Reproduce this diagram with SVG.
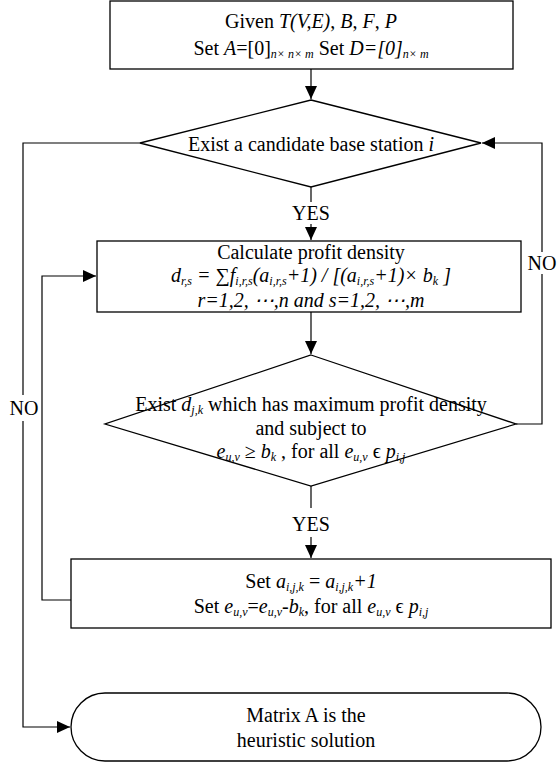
<svg xmlns="http://www.w3.org/2000/svg" width="557" height="764" viewBox="0 0 557 764">
<style>
.shape{fill:#fff;stroke:#000;stroke-width:1.3}
.ln{fill:none;stroke:#000;stroke-width:1.2}
text{font-family:"Liberation Serif","Times New Roman",serif;font-size:20px;fill:#000;text-anchor:middle}
.i{font-style:italic}
.s{font-size:12px}
</style>
<defs>
<marker id="ah" markerWidth="14" markerHeight="12" refX="13" refY="6" orient="auto" markerUnits="userSpaceOnUse">
<path d="M0,0 L13,6 L0,12 Z" fill="#000"/>
</marker>
</defs>
<g id="connectors">
<path class="ln" d="M311,69 V99" marker-end="url(#ah)"/>
<path class="ln" d="M311,187 V202"/>
<path class="ln" d="M311,224 V240" marker-end="url(#ah)"/>
<path class="ln" d="M311,312 V354" marker-end="url(#ah)"/>
<path class="ln" d="M311,486 V508"/>
<path class="ln" d="M311,537 V558" marker-end="url(#ah)"/>
<path class="ln" d="M516,424 H542 V143 H482" marker-end="url(#ah)"/>
<path class="ln" d="M71,600 H42 V276 H96" marker-end="url(#ah)"/>
<path class="ln" d="M140,143 H23 V395"/>
<path class="ln" d="M23,421 V727 H70" marker-end="url(#ah)"/>
<text x="311" y="220">YES</text>
<text x="311" y="531">YES</text>
<path d="M536,252 H548 V274 H536 Z" fill="#fff"/>
<text x="542" y="270">NO</text>
<text x="24" y="415">NO</text>
</g>
<g id="start">
<rect class="shape" x="110" y="1" width="403" height="68"/>
<text x="311" y="28">Given <tspan class="i">T(V,E)</tspan>, <tspan class="i">B</tspan>, <tspan class="i">F</tspan>, <tspan class="i">P</tspan></text>
<text x="311" y="55">Set <tspan class="i">A</tspan>=[0]<tspan class="s i" dy="3">n× n× m</tspan><tspan dy="-3"> Set </tspan><tspan class="i">D=[0]</tspan><tspan class="s i" dy="3">n× m</tspan></text>
</g>
<g id="decision1">
<polygon class="shape" points="311,100 481,143 311,187 140,143"/>
<text x="311" y="151">Exist a candidate base station <tspan class="i">i</tspan></text>
</g>
<g id="calc">
<rect class="shape" x="97" y="241" width="424" height="71"/>
<text x="311" y="259">Calculate profit density</text>
<text class="i" x="311" y="282">d<tspan class="s" dy="3">r,s</tspan><tspan dy="-3"> =  ∑f</tspan><tspan class="s" dy="3">i,r,s</tspan><tspan dy="-3">(a</tspan><tspan class="s" dy="3">i,r,s</tspan><tspan dy="-3">+1) / [(a</tspan><tspan class="s" dy="3">i,r,s</tspan><tspan dy="-3">+1)× b</tspan><tspan class="s" dy="3">k</tspan><tspan dy="-3"> ]</tspan></text>
<text class="i" x="311" y="307">r=1,2, ⋯,n and s=1,2, ⋯,m</text>
</g>
<g id="decision2">
<polygon class="shape" points="311,355 516,424 311,486 105,424"/>
<text x="311" y="411">Exist <tspan class="i">d</tspan><tspan class="s i" dy="3">j,k</tspan><tspan dy="-3"> which has maximum profit density</tspan></text>
<text x="311" y="435">and  subject to</text>
<text x="311" y="458"><tspan class="i">e</tspan><tspan class="s i" dy="3">u,v</tspan><tspan dy="-3"> ≥ </tspan><tspan class="i">b</tspan><tspan class="s i" dy="3">k</tspan><tspan dy="-3"> , for all </tspan><tspan class="i">e</tspan><tspan class="s i" dy="3">u,v</tspan><tspan dy="-3"> ϵ </tspan><tspan class="i">p</tspan><tspan class="s i" dy="3">i,j</tspan></text>
</g>
<g id="update">
<rect class="shape" x="71" y="559" width="480" height="69"/>
<text x="311" y="588">Set <tspan class="i">a</tspan><tspan class="s i" dy="3">i,j,k</tspan><tspan dy="-3"> = </tspan><tspan class="i">a</tspan><tspan class="s i" dy="3">i,j,k</tspan><tspan class="i" dy="-3">+1</tspan></text>
<text x="311" y="613">Set <tspan class="i">e</tspan><tspan class="s i" dy="3">u,v</tspan><tspan dy="-3">=</tspan><tspan class="i">e</tspan><tspan class="s i" dy="3">u,v</tspan><tspan dy="-3">-</tspan><tspan class="i">b</tspan><tspan class="s i" dy="3">k</tspan><tspan dy="-3">, for all </tspan><tspan class="i">e</tspan><tspan class="s i" dy="3">u,v</tspan><tspan dy="-3"> ϵ </tspan><tspan class="i">p</tspan><tspan class="s i" dy="3">i,j</tspan></text>
</g>
<g id="end">
<rect class="shape" x="71" y="693" width="470" height="68" rx="34" ry="34"/>
<text x="306" y="722">Matrix A is the</text>
<text x="306" y="747">heuristic solution</text>
</g>
</svg>
